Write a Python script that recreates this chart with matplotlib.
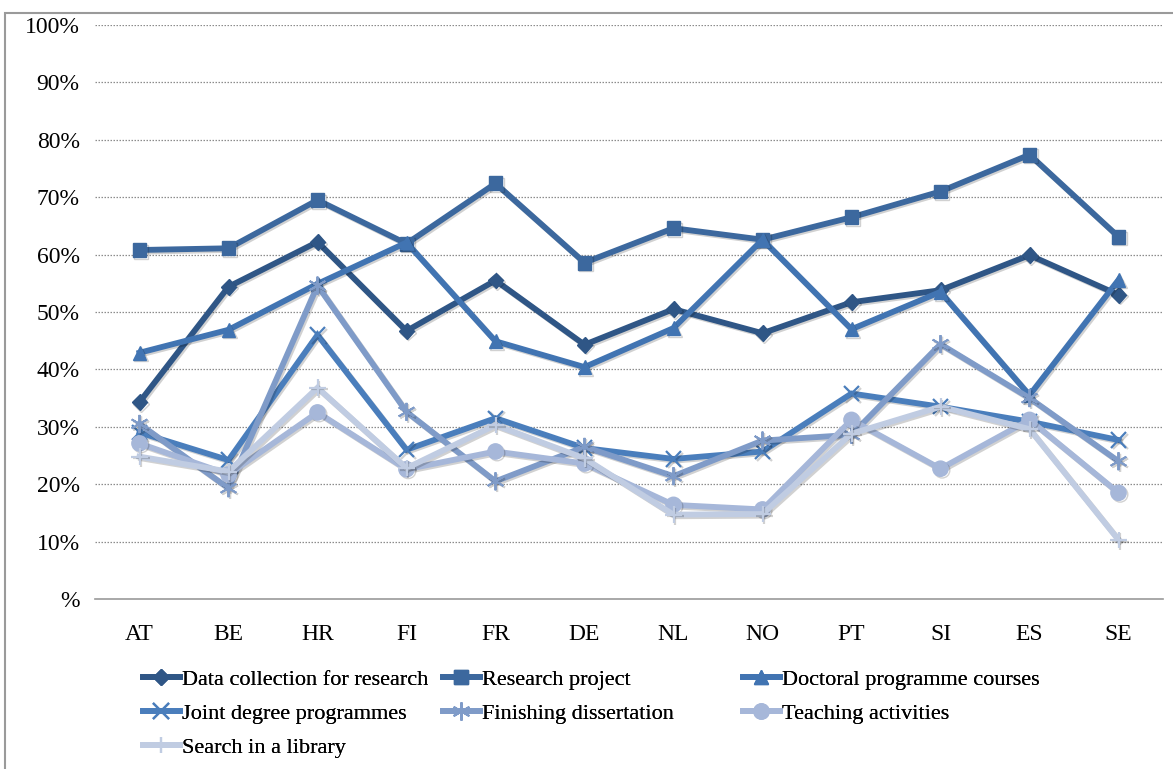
import matplotlib
matplotlib.use("Agg")
import matplotlib.pyplot as plt
import matplotlib.patheffects as pe
from matplotlib.ticker import FixedLocator, FuncFormatter
from matplotlib.patches import Rectangle

countries = ["AT", "BE", "HR", "FI", "FR", "DE", "NL", "NO", "PT", "SI", "ES", "SE"]

data_collection = [34.3, 54.4, 62.2, 46.7, 55.5, 44.3, 50.5, 46.3, 51.7, 53.8, 59.9, 53.0]
research_project = [60.8, 61.1, 69.5, 61.9, 72.4, 58.6, 64.6, 62.6, 66.5, 71.0, 77.4, 63.1]
doctoral_courses = [42.9, 46.9, 54.9, 62.1, 44.9, 40.4, 47.2, 62.6, 47.0, 53.5, 35.5, 55.6]
joint_degree = [29.0, 24.2, 46.0, 26.0, 31.5, 26.3, 24.4, 25.7, 35.8, 33.5, 30.9, 27.7]
finishing_dissertation = [30.5, 19.3, 54.6, 32.6, 20.5, 26.5, 21.4, 27.6, 28.6, 44.4, 35.0, 24.0]
teaching_activities = [27.1, 21.7, 32.5, 22.6, 25.7, 23.6, 16.4, 15.6, 31.2, 22.7, 31.2, 18.5]
search_library = [24.8, 22.2, 36.8, 22.8, 30.3, 24.5, 14.7, 14.8, 28.8, 33.5, 29.6, 10.3]

series = [
    ("Data collection for research", data_collection, "#2F5686", "D", 8, 1),
    ("Research project", research_project, "#3C689E", "s", 10, 1),
    ("Doctoral programme courses", doctoral_courses, "#4174B2", "^", 10, 1),
    ("Joint degree programmes", joint_degree, "#4A7EBC", "x", 11, 1.6),
    ("Finishing dissertation", finishing_dissertation, "#7F9BC8", (6, 2, 0), 13, 1.4),
    ("Teaching activities", teaching_activities, "#A6B7D9", "o", 11, 1),
    ("Search in a library", search_library, "#C0CCE2", "+", 12, 1.6),
]

plt.rcParams["font.family"] = ["Liberation Serif", "DejaVu Serif"]

W, H = 1173, 769
fig = plt.figure(figsize=(W / 100, H / 100), dpi=100)
ax = fig.add_axes([95 / W, 170 / H, 1068 / W, 574 / H])

x = list(range(len(countries)))
shadow = [pe.SimpleLineShadow(offset=(1.2, -1.2), alpha=0.18), pe.Normal()]
handles = []
for i, (name, vals, color, marker, ms, mew) in enumerate(series):
    (ln,) = ax.plot(x, vals, color=color, lw=4.2, marker=marker, markersize=ms,
                    markeredgewidth=mew, markeredgecolor=color, markerfacecolor=color,
                    label=name, zorder=3 + i, path_effects=shadow, solid_joinstyle="miter")
    handles.append(ln)

ax.set_xlim(-0.5, len(countries) - 0.5)
ax.set_ylim(0, 100)
ax.yaxis.set_major_locator(FixedLocator(range(0, 101, 10)))
ax.yaxis.set_major_formatter(FuncFormatter(lambda v, p: "%" if v == 0 else f"{int(v)}%"))
ax.set_xticks(x)
ax.set_xticklabels(countries)
ax.tick_params(axis="both", length=0, labelsize=17, colors="#000000")
ax.tick_params(axis="y", pad=11)
ax.tick_params(axis="x", pad=18)

for v in range(10, 101, 10):
    ax.axhline(v, color="#8C8C8C", lw=0.9, ls=(0, (1.2, 1.2)), zorder=1)

for side in ("left", "right", "top"):
    ax.spines[side].set_visible(False)
ax.spines["bottom"].set_color("#999999")
ax.spines["bottom"].set_linewidth(1.2)

# legend laid out row by row in three fixed-width columns
col_x = [143, 443, 743]
for c, cx in enumerate(col_x):
    hs = handles[c::3]
    leg = fig.legend(handles=hs, labels=[h.get_label() for h in hs],
                     loc="upper left", bbox_to_anchor=(cx / W, 1 - 669 / H),
                     ncol=1, frameon=False, fontsize=16, handlelength=1.65,
                     handletextpad=0.1, labelspacing=0.62,
                     borderaxespad=0, borderpad=0)
    for h in leg.legend_handles:
        h.set_linewidth(4.2)
        h.set_path_effects([])
    fig.add_artist(leg)

# outer frame
fig.patches.append(Rectangle((5 / W, -0.01), 1170 / W, 1 - 13 / H + 0.01,
                             transform=fig.transFigure, fill=False,
                             edgecolor="#9A9A9A", lw=1.5))

fig.savefig("out.png", dpi=100)
